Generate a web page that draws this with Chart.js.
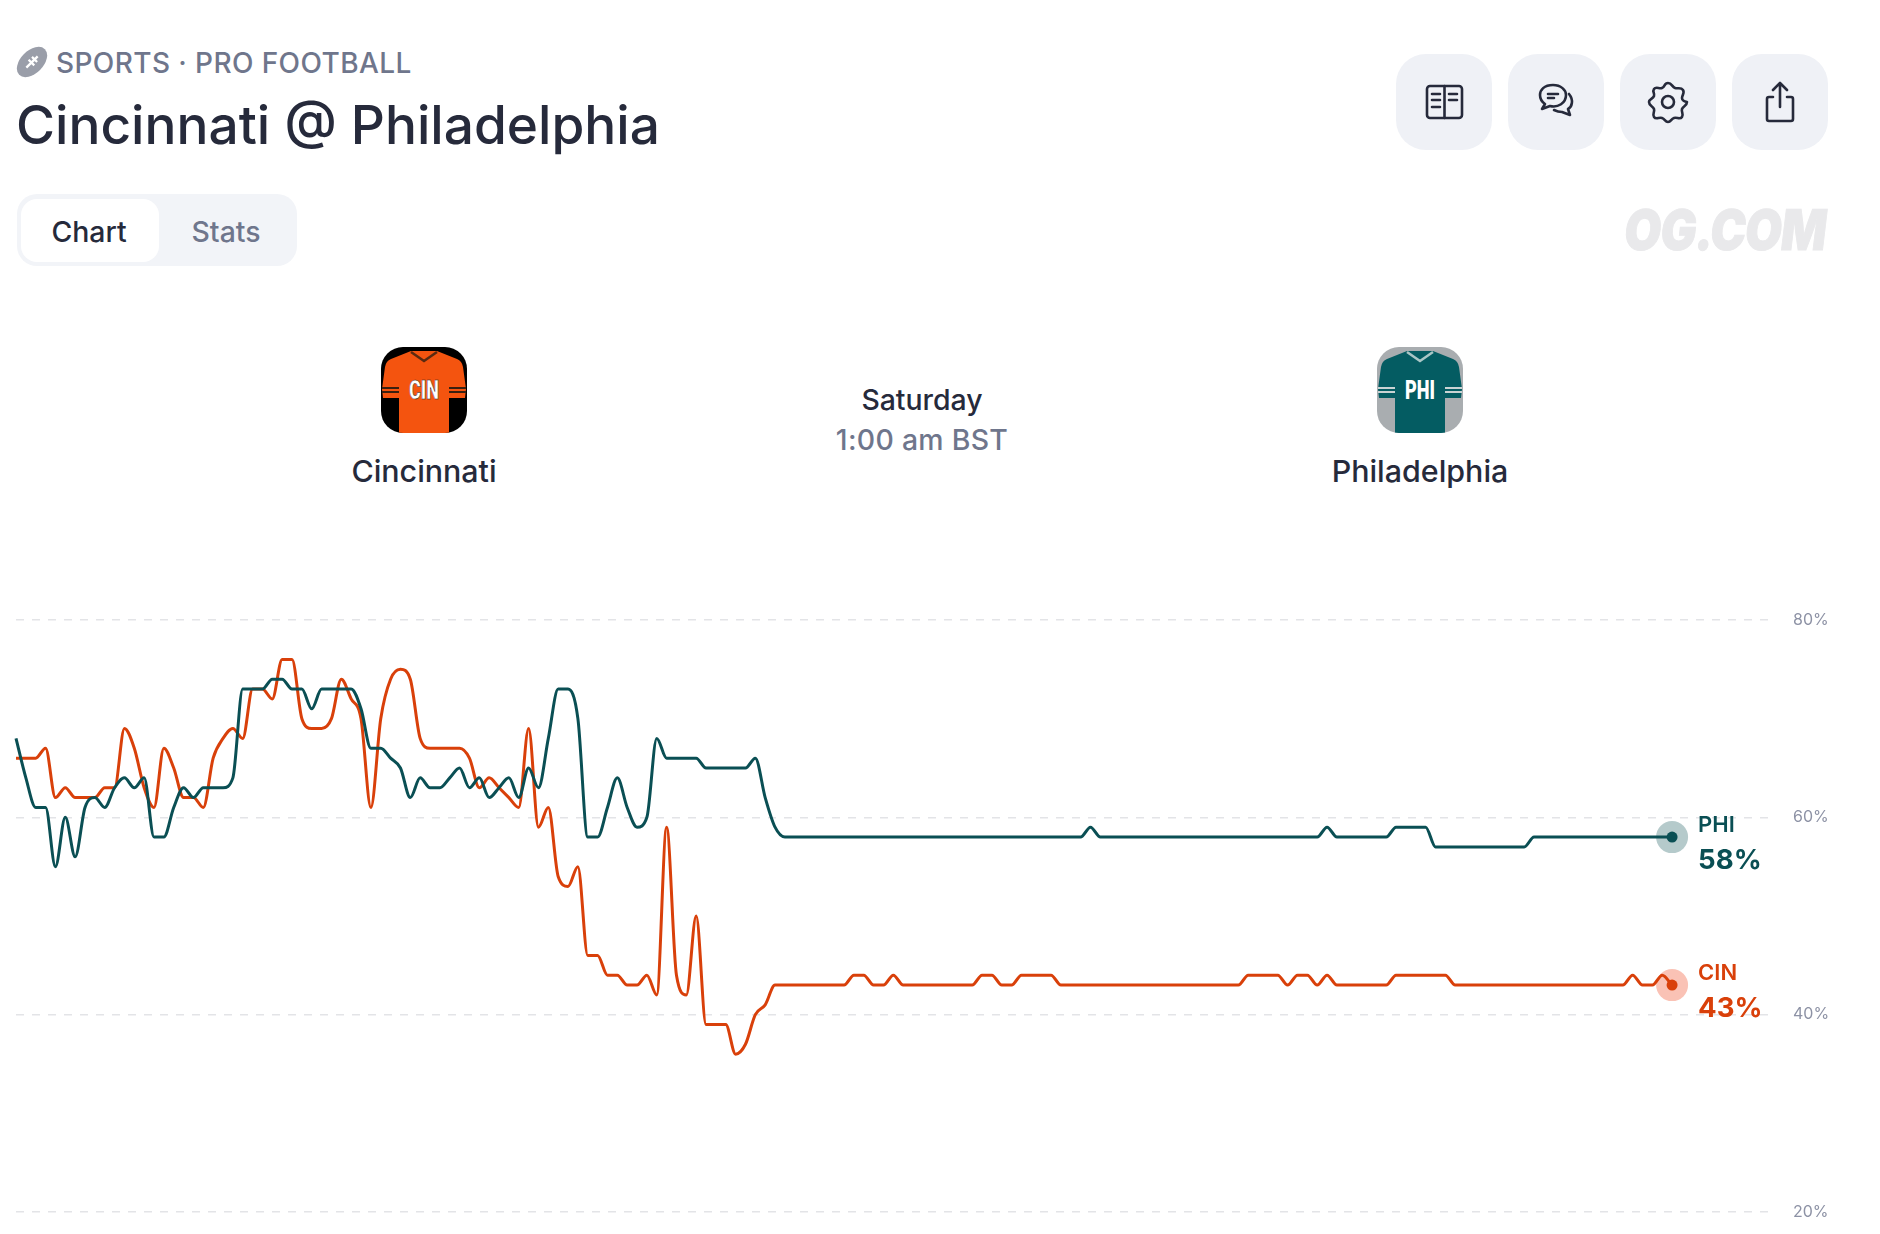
<!DOCTYPE html>
<html>
<head>
<meta charset="utf-8">
<title>Cincinnati @ Philadelphia</title>
<script src="https://cdn.jsdelivr.net/npm/chart.js@4/dist/chart.umd.js"></script>
<style>
  html, body { margin: 0; padding: 0; background: #fff; }
  body { width: 1880px; height: 1234px; position: relative; overflow: hidden; font-family: Inter, sans-serif; color: #262a3b; }
  .abs { position: absolute; white-space: nowrap; }
  .center { transform: translate(-50%, -50%); }
  .category { left: 56px; top: 63px; transform: translateY(-50%); font-size: 28px; font-weight: 500; color: #6f768c; letter-spacing: 0.4px; }
  .title { left: 16px; top: 124px; transform: translateY(-50%); font-size: 53.2px; font-weight: 500; }
  .tabs { left: 17px; top: 194px; width: 280px; height: 72px; background: #f2f4f8; border-radius: 20px; }
  .tab-active { left: 21px; top: 199px; width: 138px; height: 63px; background: #fff; border-radius: 16px; }
  .tab { top: 231px; font-size: 28.4px; font-weight: 500; }
  .btn { top: 54px; width: 96px; height: 96px; background: #eff1f6; border-radius: 30px; }
  .btn svg { position: absolute; left: 24px; top: 24px; width: 48px; height: 48px; fill: none; stroke: #262a3b; stroke-width: 2.6; stroke-linecap: round; stroke-linejoin: round; }
  .watermark { left: 1625px; top: 230px; transform-origin: left center; transform: translateY(-50%) scaleX(0.85) skewX(-8deg); font-size: 56px; font-weight: 900; color: #e9e9eb; letter-spacing: -1px; -webkit-text-stroke: 1px #e9e9eb; }
  .team { top: 471px; font-size: 30.4px; font-weight: 500; }
  .jersey { top: 347px; width: 86px; height: 86px; }
  #chart-box { position: absolute; left: 0; top: 600px; width: 1880px; height: 634px; }
</style>
</head>
<body>

<svg class="abs" style="left:15px;top:45px;width:34px;height:34px" viewBox="0 0 30 30">
  <ellipse cx="15" cy="15" rx="16" ry="10" transform="rotate(-45 15 15)" fill="#9a9ea9"/>
  <path d="M10 20 L20 10 M12 13 L17 18 M15 10.5 L19.5 15" stroke="#fff" stroke-width="2" fill="none"/>
</svg>
<div class="abs category">SPORTS · PRO FOOTBALL</div>
<div class="abs title">Cincinnati @ Philadelphia</div>

<div class="abs tabs"></div>
<div class="abs tab-active"></div>
<div class="abs tab center" style="left:89px">Chart</div>
<div class="abs tab center" style="left:226px;color:#6f768c">Stats</div>

<div class="abs btn" style="left:1396px">
  <svg viewBox="0 0 48 48"><rect x="7" y="8" width="35" height="32" rx="3"/><path d="M24.5 8 V40 M12 16 H20 M12 22 H20 M12 29 H20 M29 16 H37 M29 22 H37"/></svg>
</div>
<div class="abs btn" style="left:1508px">
  <svg viewBox="0 0 48 48"><path d="M21 7 C12 7 8 12 8 17 C8 21 10 24 13 26 L10 31 L18 28 C26 30 34 25 34 17 C34 12 29 7 21 7 Z"/><path d="M16 16 H26 M16 20 H22"/><path d="M37 16 C42 22 40 29 36 31 L38 37 L30 34 C27 34 24 33 22 32"/></svg>
</div>
<div class="abs btn" style="left:1620px">
  <svg viewBox="0 0 48 48"><path d="M24 5 C28 5 28 9 31 10 C34 11 37 9 39 12 C41 15 38 17 38 20 C38 23 43 24 43 24 C43 28 39 28 38 31 C37 34 40 36 38 39 C36 42 33 39 30 40 C27 41 27 44 24 44 C21 44 21 41 18 40 C15 39 12 42 10 39 C8 36 11 34 10 31 C9 28 5 28 5 24 C5 21 9 21 10 18 C11 15 8 14 10 11 C12 8 15 11 18 10 C21 9 20 5 24 5 Z"/><circle cx="24" cy="24" r="6"/></svg>
</div>
<div class="abs btn" style="left:1732px">
  <svg viewBox="0 0 48 48"><path d="M24 29 V5 M17 12 L24 5 L31 12"/><path d="M17 19 H13 Q11 19 11 21 V41 Q11 43 13 43 H35 Q37 43 37 41 V21 Q37 19 35 19 H31"/></svg>
</div>

<div class="abs watermark">OG.COM</div>

<!-- jerseys -->
<svg class="abs jersey" style="left:381px" viewBox="0 0 86 86">
  <defs><clipPath id="clip-cin"><rect x="0" y="0" width="86" height="86" rx="22"/></clipPath></defs>
  <g clip-path="url(#clip-cin)">
    <rect width="86" height="86" fill="#000"/>
    <path d="M30 4 L56 4 L76 12 Q81 14 82 20 L85 42 L84 51 L68 51 L68 86 L18 86 L18 51 L2 51 L1 42 L4 20 Q5 14 10 12 Z" fill="#f4540f"/>
    <path d="M30 5 L43 14 L56 5" fill="none" stroke="#5a2a10" stroke-width="2.5"/>
    <path d="M1 41 H18 M1 45 H18 M68 41 H85 M68 45 H85" stroke="#3a2010" stroke-width="1.8"/>
  </g>
  <text x="43" y="52" text-anchor="middle" font-family="Roboto, sans-serif" font-weight="900" font-size="25" fill="#fff" stroke="#222" stroke-width="0.5" textLength="30" lengthAdjust="spacingAndGlyphs">CIN</text>
</svg>
<svg class="abs jersey" style="left:1377px" viewBox="0 0 86 86">
  <defs><clipPath id="clip-phi"><rect x="0" y="0" width="86" height="86" rx="22"/></clipPath></defs>
  <g clip-path="url(#clip-phi)">
    <rect width="86" height="86" fill="#a9adb0"/>
    <path d="M30 4 L56 4 L76 12 Q81 14 82 20 L85 42 L84 51 L68 51 L68 86 L18 86 L18 51 L2 51 L1 42 L4 20 Q5 14 10 12 Z" fill="#045c62"/>
    <path d="M30 5 L43 14 L56 5" fill="none" stroke="#a9c6c6" stroke-width="2.5"/>
    <path d="M1 41 H18 M1 45 H18 M68 41 H85 M68 45 H85" stroke="#c9d3d3" stroke-width="1.8"/>
  </g>
  <text x="43" y="52" text-anchor="middle" font-family="Roboto, sans-serif" font-weight="900" font-size="25" fill="#fff" textLength="30" lengthAdjust="spacingAndGlyphs">PHI</text>
</svg>
<div class="abs team center" style="left:424px">Cincinnati</div>
<div class="abs team center" style="left:1420px">Philadelphia</div>
<div class="abs center" style="left:922px;top:399px;font-size:28.4px;font-weight:500">Saturday</div>
<div class="abs center" style="left:922px;top:439px;font-size:28.4px;font-weight:500;letter-spacing:0.3px;color:#6f768c">1:00 am BST</div>

<div id="chart-box"><canvas id="game-chart"></canvas></div>

<script>
// chart values (whole percents, about one point per 9.86px)
const phiValues = [
  68,64,61,61,55,60,56,61,62,61,
  63,64,63,64,58,58,61,63,62,63,
  63,63,64,73,73,73,74,74,73,73,
  71,73,73,73,73,71,67,67,66,65,
  62,64,63,63,64,65,63,64,62,63,
  64,62,65,63,68,73,73,70,58,58,
  61,64,61,59,60,68,66,66,66,66,
  65,65,65,65,65,66,62,59,58,58,
  58,58,58,58,58,58,58,58,58,58,
  58,58,58,58,58,58,58,58,58,58,
  58,58,58,58,58,58,58,58,58,59,
  58,58,58,58,58,58,58,58,58,58,
  58,58,58,58,58,58,58,58,58,58,
  58,58,58,59,58,58,58,58,58,58,
  59,59,59,59,57,57,57,57,57,57,
  57,57,57,57,58,58,58,58,58,58,
  58,58,58,58,58,58,58,58,58
]
const cinValues = [
  66,66,66,67,62,63,62,62,62,63,
  63,69,67,63,61,67,65,62,62,61,
  66,68,69,68,73,73,72,76,76,70,
  69,69,70,74,72,70,61,70,74,75,
  74,68,67,67,67,67,66,63,64,63,
  62,61,69,59,61,54,53,55,46,46,
  44,44,43,43,44,42,59,44,42,50,
  39,39,39,36,37,40,41,43,43,43,
  43,43,43,43,43,44,44,43,43,44,
  43,43,43,43,43,43,43,43,44,44,
  43,43,44,44,44,44,43,43,43,43,
  43,43,43,43,43,43,43,43,43,43,
  43,43,43,43,43,44,44,44,44,43,
  44,44,43,44,43,43,43,43,43,43,
  44,44,44,44,44,44,43,43,43,43,
  43,43,43,43,43,43,43,43,43,43,
  43,43,43,43,44,43,43,44,43
]
const yTicks = [20, 40, 60, 80]
const phiName = 'PHI'
const cinName = 'CIN'

const phiColor = '#0a4f54'
const cinColor = '#d9400a'
const xMax = 177.73 // axis runs on past the last point, grid goes under the end labels

const toPoints = (values) => values.map((v, i) => ({ x: i, y: v }))

// only the last point gets a dot
const lastOnly = (size) => (ctx) => ctx.dataIndex === ctx.dataset.data.length - 1 ? size : 0

const lineDataset = (name, values, color) => ({
  label: name,
  data: toPoints(values),
  borderColor: color,
  backgroundColor: color,
  borderWidth: 3,
  cubicInterpolationMode: 'monotone',
  pointRadius: lastOnly(5.5),
  pointHoverRadius: 0,
  pointBorderWidth: 0,
  clip: false
})

const haloDataset = (name, values, color) => ({
  label: name + ' halo',
  data: toPoints(values),
  showLine: false,
  backgroundColor: color,
  pointRadius: lastOnly(16),
  pointBorderWidth: 0,
  clip: false
})

// PHI 58% / CIN 43% next to the end of each line
const endLabels = {
  id: 'endLabels',
  afterDraw(chart) {
    const { ctx, scales } = chart
    const drawLabel = (name, values, color) => {
      const last = values[values.length - 1]
      const x = scales.x.getPixelForValue(values.length - 1) + 26
      const y = scales.y.getPixelForValue(last)
      ctx.save()
      ctx.fillStyle = color
      ctx.textAlign = 'left'
      ctx.textBaseline = 'middle'
      ctx.font = '600 22px Inter'
      ctx.fillText(name, x, y - 12)
      ctx.font = '700 27.6px Inter'
      ctx.fillText(`${last}%`, x, y + 24)
      ctx.restore()
    }
    drawLabel(phiName, phiValues, phiColor)
    drawLabel(cinName, cinValues, cinColor)
  }
}

new Chart(document.querySelector('#game-chart'), {
  type: 'line',
  data: {
    datasets: [
      lineDataset(phiName, phiValues, phiColor),
      lineDataset(cinName, cinValues, cinColor),
      haloDataset(phiName, phiValues, 'rgba(10, 79, 84, 0.3)'),
      haloDataset(cinName, cinValues, 'rgba(240, 70, 30, 0.33)')
    ]
  },
  plugins: [endLabels],
  options: {
    responsive: true,
    maintainAspectRatio: false,
    animation: false,
    layout: { autoPadding: false, padding: { left: 16, top: 20, bottom: 22, right: 0 } },
    plugins: { legend: { display: false }, tooltip: { enabled: false } },
    scales: {
      x: { type: 'linear', min: 0, max: xMax, display: false },
      y: {
        position: 'right',
        min: 20,
        max: 80,
        afterFit: (scale) => { scale.width = 112 },
        afterBuildTicks: (scale) => { scale.ticks = yTicks.map((v) => ({ value: v })) },
        border: { display: false, dash: [8, 8] },
        // tick padding also pads the plot top and bottom, so the gap to the labels is an invisible tick
        grid: { color: '#e3e4e7', lineWidth: 1.5, drawTicks: true, tickLength: 25, tickColor: 'transparent' },
        ticks: {
          color: '#8d92a5',
          font: { family: 'Inter', size: 16 },
          padding: 0,
          callback: (v) => `${v}%`
        }
      }
    }
  }
})
</script>
</body>
</html>
